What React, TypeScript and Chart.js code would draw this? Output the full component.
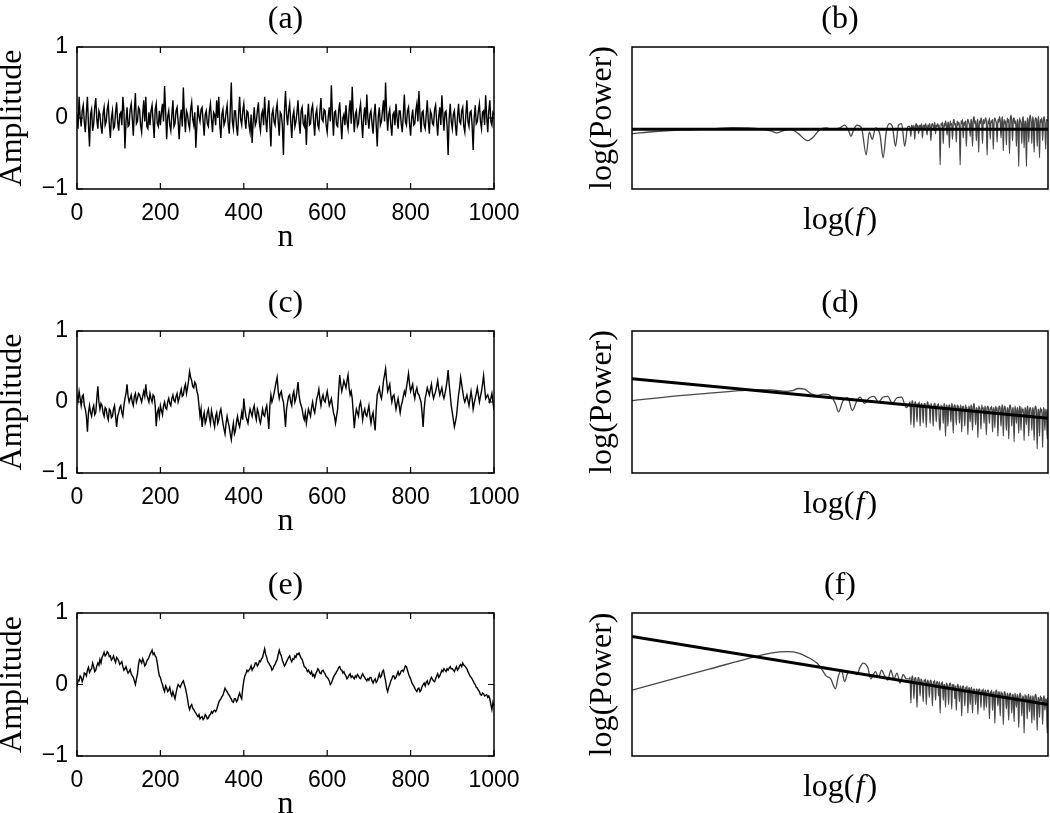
import React, { useEffect, useRef } from 'react';
import { Chart, registerables } from 'chart.js';

Chart.register(...registerables);

const SERIF = '"Liberation Serif", "Times New Roman", serif';
const SANS = '"Liberation Sans", Arial, sans-serif';
const LABEL_SIZE = 32;
const TICK_SIZE = 23;

// ---------- time axis (samples n) ----------
const nAxis = Array.from({ length: 401 }, (_, i) => i * 2.5);
const nTickStep = 200;
const ampTicks = [-1, 0, 1];

// ---------- (a) white noise ----------
const amplitudeA = [
  0.05, -0.15, 0.3, 0.02, -0.12, 0.1, 0.18, -0.05, -0.2, 0.08, 0.3, -0.1, -0.4, 0.05, 0.12, -0.18, -0.08, 0.15, 0.28, -0.02, -0.15, 0.1, 0.05, -0.12, -0.22, 0.06, 0.15, -0.1, -0.05, 0.12, 0.2, -0.08, -0.28, 0.0, 0.1, -0.15, -0.12, 0.08, 0.22, -0.06,
  -0.18, 0.05, 0.08, -0.1, 0.3, 0.1, -0.43, -0.05, 0.15, -0.12, -0.1, 0.12, 0.2, 0.0, -0.25, 0.1, 0.35, -0.08, -0.05, 0.15, 0.12, -0.1, -0.2, 0.05, 0.25, -0.05, 0.3, -0.12, -0.15, 0.08, -0.1, 0.1, 0.18, -0.05, -0.28, 0.12, 0.2, -0.08, -0.12, 0.1,
  -0.1, 0.08, 0.2, -0.05, 0.45, 0.1, -0.3, 0.02, 0.1, -0.1, -0.18, 0.05, 0.25, -0.12, -0.08, 0.1, 0.15, -0.05, -0.3, 0.0, 0.12, -0.12, 0.43, 0.05, -0.2, 0.1, 0.05, -0.08, -0.15, 0.12, 0.22, -0.02, -0.1, 0.08, -0.42, -0.1, 0.18, 0.02, -0.05, 0.12,
  0.15, -0.05, -0.25, 0.05, 0.1, -0.08, -0.12, 0.1, 0.2, -0.02, -0.2, 0.08, 0.05, -0.1, 0.25, 0.0, 0.3, -0.1, -0.28, 0.05, 0.12, -0.1, -0.05, 0.08, 0.18, -0.08, -0.22, 0.1, 0.5, -0.05, -0.15, 0.1, 0.1, -0.12, -0.25, 0.05, 0.3, -0.02, -0.1, 0.1,
  0.2, -0.02, -0.15, 0.1, 0.08, -0.1, -0.2, 0.05, -0.35, -0.05, 0.15, -0.1, -0.05, 0.1, 0.22, -0.08, -0.18, 0.05, 0.1, -0.1, 0.3, 0.0, -0.2, 0.08, 0.25, -0.1, -0.4, 0.05, 0.12, -0.05, -0.1, 0.1, 0.2, -0.05, -0.25, 0.08, 0.05, -0.1, -0.52, 0.1,
  0.38, 0.05, -0.1, 0.1, 0.2, -0.05, -0.28, 0.02, 0.1, -0.12, -0.05, 0.08, 0.25, -0.05, -0.22, 0.1, 0.15, -0.08, -0.12, 0.05, -0.38, 0.0, 0.2, -0.1, -0.08, 0.12, 0.18, -0.05, -0.25, 0.05, 0.12, -0.1, -0.15, 0.1, 0.28, -0.02, -0.05, 0.12, 0.1, -0.1,
  -0.2, 0.02, 0.15, -0.05, 0.46, 0.05, -0.25, 0.08, 0.1, -0.1, -0.12, 0.1, 0.22, -0.05, -0.3, 0.0, 0.05, -0.1, 0.18, -0.05, -0.15, 0.1, 0.25, -0.08, 0.44, 0.05, -0.2, 0.05, 0.1, -0.12, -0.08, 0.1, 0.2, -0.05, -0.28, 0.02, 0.15, -0.1, 0.33, 0.0,
  -0.15, 0.05, 0.1, -0.08, -0.22, 0.05, 0.2, -0.1, -0.4, 0.02, 0.15, -0.1, -0.05, 0.1, 0.25, -0.05, 0.5, 0.08, -0.18, 0.05, 0.12, -0.1, -0.25, 0.05, 0.08, -0.1, 0.2, 0.0, -0.15, 0.1, 0.1, -0.08, -0.2, 0.05, 0.33, -0.05, -0.1, 0.1, 0.15, -0.08,
  -0.25, 0.0, 0.12, -0.1, -0.08, 0.1, 0.2, -0.05, 0.38, 0.05, -0.2, 0.08, 0.1, -0.1, -0.15, 0.05, 0.25, -0.05, -0.22, 0.1, 0.05, -0.08, -0.1, 0.12, 0.18, -0.05, -0.25, 0.02, 0.15, -0.1, 0.32, 0.05, -0.18, 0.08, 0.1, -0.12, -0.52, 0.0, 0.2, -0.05,
  -0.15, 0.05, 0.1, -0.1, -0.25, 0.02, 0.2, -0.05, -0.08, 0.1, 0.15, -0.12, -0.2, 0.05, 0.25, -0.05, -0.12, 0.08, 0.1, -0.1, -0.45, 0.0, 0.18, -0.08, -0.05, 0.1, 0.2, -0.05, -0.15, 0.08, 0.1, -0.1, 0.32, 0.02, -0.2, 0.1, 0.25, -0.05, -0.1, 0.08,
  0.05,
];

// ---------- (c) pink noise ----------
const amplitudeC = [
  0.1, 0.02, 0.15, 0.05, -0.05, 0.08, 0.1, -0.05, -0.1, -0.2, -0.42, -0.15, -0.05, -0.15, -0.2, -0.1, -0.05, -0.18, -0.15, 0.05, 0.22, 0.0, -0.1, -0.02, -0.05, -0.15, -0.2, -0.08, -0.1, -0.2, -0.25, -0.1, -0.12, -0.22, -0.2, -0.1, -0.05, -0.2, -0.35, -0.2,
  -0.15, -0.08, -0.05, -0.15, -0.2, -0.05, 0.05, 0.12, 0.25, 0.08, 0.0, 0.05, 0.1, 0.0, -0.05, 0.08, 0.12, 0.0, 0.05, 0.12, 0.1, 0.05, 0.0, 0.08, 0.15, 0.08, 0.25, 0.1, 0.05, 0.0, 0.12, 0.05, 0.0, 0.1, 0.08, -0.05, -0.34, -0.15, -0.1, -0.2,
  -0.05, -0.12, -0.18, -0.05, 0.0, -0.08, -0.1, 0.0, 0.05, -0.02, -0.05, 0.05, 0.1, 0.02, 0.0, 0.08, 0.12, 0.0, 0.05, 0.12, 0.18, 0.08, 0.1, 0.2, 0.25, 0.12, 0.2, 0.3, 0.43, 0.35, 0.3, 0.22, 0.2, 0.28, 0.25, 0.15, 0.1, -0.05, -0.2, -0.1,
  -0.35, -0.22, -0.15, -0.3, -0.25, -0.15, -0.1, -0.22, -0.3, -0.12, -0.2, -0.28, -0.35, -0.2, -0.15, -0.3, -0.25, -0.15, -0.1, -0.2, -0.3, -0.38, -0.45, -0.3, -0.2, -0.28, -0.35, -0.45, -0.53, -0.4, -0.3, -0.45, -0.4, -0.28, -0.2, -0.3, -0.35, -0.25, -0.15, -0.25,
  0.05, -0.1, -0.2, -0.25, -0.3, -0.18, -0.1, -0.15, -0.2, -0.1, -0.05, -0.18, -0.25, -0.1, -0.15, -0.25, -0.3, -0.2, -0.1, -0.18, -0.2, -0.1, -0.05, -0.2, -0.38, -0.05, 0.1, 0.0, 0.05, 0.12, 0.2, 0.28, 0.35, 0.15, 0.05, 0.12, 0.15, 0.05, 0.0, -0.15,
  -0.35, -0.1, 0.0, 0.08, 0.1, 0.0, -0.05, 0.1, 0.15, 0.0, 0.05, 0.15, 0.28, 0.1, 0.0, -0.05, -0.1, -0.2, -0.25, -0.15, -0.3, -0.2, -0.1, -0.15, -0.2, -0.08, 0.0, -0.1, -0.15, -0.05, 0.05, 0.1, 0.18, 0.05, -0.05, 0.05, 0.1, 0.02, 0.0, 0.08,
  0.15, 0.05, -0.05, 0.0, 0.05, -0.05, -0.15, -0.2, -0.3, -0.2, -0.1, 0.15, 0.38, 0.25, 0.15, 0.22, 0.3, 0.25, 0.2, 0.3, 0.38, 0.2, 0.1, 0.15, 0.05, -0.15, -0.37, -0.2, -0.1, -0.15, -0.2, -0.05, 0.0, -0.1, -0.25, -0.15, -0.1, -0.18, -0.2, -0.12,
  -0.05, -0.2, -0.3, -0.2, -0.15, -0.28, -0.4, -0.1, 0.1, 0.15, 0.2, 0.1, 0.05, 0.15, 0.3, 0.38, 0.47, 0.3, 0.15, 0.2, 0.25, 0.1, 0.0, 0.08, 0.1, 0.0, -0.1, -0.02, 0.05, -0.05, -0.15, -0.05, 0.0, 0.08, 0.15, 0.1, 0.2, 0.3, 0.4, 0.25,
  0.15, 0.2, 0.25, 0.12, 0.05, 0.15, 0.2, 0.12, 0.1, 0.05, 0.0, -0.15, -0.35, -0.1, 0.05, 0.12, 0.2, 0.15, 0.1, 0.18, 0.25, 0.12, 0.05, 0.1, 0.15, 0.22, 0.3, 0.18, 0.1, 0.15, 0.2, 0.1, 0.05, 0.12, 0.2, 0.3, 0.45, 0.25, 0.1, -0.05,
  -0.15, -0.25, -0.35, -0.28, -0.2, -0.05, 0.1, 0.2, 0.35, 0.25, 0.15, 0.05, 0.0, 0.05, 0.1, 0.02, -0.05, 0.05, 0.15, 0.05, -0.1, -0.02, 0.05, 0.12, 0.2, 0.1, 0.0, 0.08, 0.15, 0.25, 0.37, 0.2, 0.05, 0.08, 0.1, 0.05, 0.0, 0.05, 0.12, 0.0,
  -0.12,
];

// ---------- (e) brown noise ----------
const amplitudeE = [
  -0.03, 0.06, 0.05, 0.12, 0.1, 0.04, 0.08, 0.16, 0.15, 0.12, 0.2, 0.24, 0.17, 0.2, 0.22, 0.3, 0.25, 0.18, 0.2, 0.26, 0.3, 0.27, 0.35, 0.3, 0.38, 0.41, 0.45, 0.4, 0.42, 0.46, 0.44, 0.39, 0.4, 0.34, 0.36, 0.4, 0.35, 0.31, 0.38, 0.36,
  0.33, 0.28, 0.3, 0.32, 0.25, 0.2, 0.22, 0.25, 0.2, 0.16, 0.18, 0.21, 0.15, 0.12, 0.1, 0.05, 0.0, 0.08, 0.15, 0.28, 0.35, 0.33, 0.3, 0.36, 0.32, 0.26, 0.28, 0.33, 0.35, 0.38, 0.42, 0.45, 0.48, 0.42, 0.44, 0.4, 0.38, 0.3, 0.2, 0.12,
  0.1, 0.04, 0.0, -0.06, -0.1, -0.02, -0.05, -0.1, -0.08, -0.04, -0.12, -0.16, -0.1, -0.15, -0.2, -0.12, -0.05, 0.0, -0.02, -0.04, 0.0, 0.03, 0.05, 0.0, -0.05, -0.12, -0.2, -0.3, -0.35, -0.3, -0.28, -0.33, -0.35, -0.38, -0.4, -0.43, -0.45, -0.42, -0.48, -0.46,
  -0.45, -0.49, -0.47, -0.42, -0.44, -0.48, -0.47, -0.43, -0.42, -0.38, -0.4, -0.37, -0.36, -0.38, -0.35, -0.3, -0.25, -0.22, -0.2, -0.17, -0.15, -0.1, -0.05, -0.08, -0.1, -0.13, -0.15, -0.18, -0.2, -0.24, -0.25, -0.2, -0.2, -0.24, -0.22, -0.16, -0.12, -0.17, -0.2, -0.05,
  0.05, 0.12, 0.15, 0.2, 0.18, 0.2, 0.22, 0.26, 0.2, 0.23, 0.25, 0.3, 0.3, 0.26, 0.28, 0.33, 0.32, 0.36, 0.38, 0.44, 0.5, 0.42, 0.38, 0.32, 0.3, 0.27, 0.25, 0.2, 0.22, 0.26, 0.28, 0.32, 0.35, 0.42, 0.48, 0.43, 0.4, 0.34, 0.3, 0.26,
  0.28, 0.32, 0.35, 0.38, 0.4, 0.35, 0.32, 0.36, 0.35, 0.4, 0.38, 0.43, 0.42, 0.44, 0.4, 0.37, 0.35, 0.3, 0.25, 0.24, 0.22, 0.18, 0.2, 0.17, 0.15, 0.18, 0.12, 0.14, 0.1, 0.15, 0.18, 0.22, 0.2, 0.16, 0.15, 0.19, 0.2, 0.17, 0.15, 0.11,
  0.1, 0.08, 0.05, 0.0, 0.02, 0.06, 0.1, 0.13, 0.15, 0.18, 0.2, 0.24, 0.25, 0.21, 0.2, 0.16, 0.18, 0.14, 0.12, 0.08, 0.1, 0.13, 0.15, 0.1, 0.12, 0.1, 0.08, 0.12, 0.1, 0.14, 0.12, 0.09, 0.08, 0.12, 0.15, 0.12, 0.1, 0.07, 0.05, 0.08,
  0.06, 0.1, 0.1, 0.05, 0.02, 0.06, 0.08, 0.03, 0.05, 0.1, 0.15, 0.1, 0.12, 0.18, 0.2, 0.12, 0.05, -0.05, -0.1, -0.04, 0.0, 0.05, 0.08, 0.12, 0.12, 0.08, 0.1, 0.14, 0.18, 0.13, 0.15, 0.19, 0.2, 0.18, 0.22, 0.26, 0.25, 0.2, 0.15, 0.11,
  0.08, 0.03, 0.0, -0.02, -0.05, -0.08, -0.1, -0.06, -0.05, -0.1, -0.08, -0.03, 0.0, 0.02, -0.02, 0.03, 0.05, 0.0, 0.02, 0.07, 0.1, 0.07, 0.05, 0.04, 0.08, 0.12, 0.15, 0.1, 0.12, 0.16, 0.2, 0.18, 0.22, 0.2, 0.18, 0.22, 0.2, 0.23, 0.25, 0.22,
  0.22, 0.2, 0.18, 0.22, 0.25, 0.2, 0.22, 0.26, 0.28, 0.25, 0.3, 0.27, 0.26, 0.24, 0.22, 0.18, 0.15, 0.12, 0.1, 0.08, 0.05, 0.02, 0.0, -0.04, -0.05, -0.08, -0.1, -0.14, -0.15, -0.12, -0.13, -0.16, -0.15, -0.14, -0.18, -0.16, -0.2, -0.28, -0.35, -0.25,
  -0.3,
];

// ---------- spectra: log(f) axis ----------
const logFRange = [-3, -0.3];
const hiLogF = Array.from({ length: 181 }, (_, i) => -1.2 + i * 0.005);
const fitLogF = [-3, -0.3];

// (b)
const lowLogF_B = [-3.0, -2.85, -2.7, -2.5, -2.35, -2.25, -2.15, -2.1, -2.06, -2.02, -1.97, -1.92, -1.88, -1.86, -1.82, -1.78, -1.74, -1.7, -1.65, -1.62, -1.59, -1.58, -1.56, -1.54, -1.51, -1.48, -1.46, -1.44, -1.42, -1.39, -1.37, -1.35, -1.33, -1.31, -1.29, -1.27, -1.25, -1.23, -1.21];
const lowPow_B = [3.9, 4.05, 4.15, 4.22, 4.32, 4.3, 4.2, 4.1, 3.95, 4.1, 4.2, 3.9, 3.5, 3.4, 3.7, 4.2, 4.3, 4.2, 4.3, 4.5, 4.0, 3.7, 4.2, 4.5, 4.3, 2.4, 4.0, 3.5, 4.3, 3.8, 2.2, 4.0, 4.6, 4.4, 3.0, 4.5, 4.6, 3.0, 4.4];
const hiPow_B = [
  4.4, 4.3, 3.7, 4.5, 4.4, 4.2, 4.5, 3.5, 4.4, 4.6, 4.3, 4.5, 3.9, 4.4, 4.5, 4.3, 4.6, 3.6, 4.4, 4.5,
  4.3, 4.6, 4.4, 3.8, 4.5, 4.3, 4.6, 4.4, 3.4, 4.5, 4.6, 4.4, 4.3, 4.7, 3.9, 4.5, 4.4, 4.6, 4.3, 4.5,
  1.7, 4.6, 4.5, 4.7, 3.2, 4.6, 4.4, 4.8, 4.5, 3.8, 4.7, 4.6, 2.9, 4.8, 4.5, 4.6, 3.5, 4.7, 4.9, 4.5,
  4.6, 3.3, 4.8, 4.5, 4.7, 4.4, 1.7, 4.8, 4.6, 4.9, 3.6, 4.7, 4.5, 4.8, 3.0, 4.6, 4.9, 4.7, 4.5, 3.7,
  4.9, 4.7, 3.0, 4.8, 5.1, 4.6, 4.8, 3.4, 4.7, 4.9, 2.6, 4.8, 4.6, 5.0, 4.7, 3.2, 4.9, 4.6, 4.8, 5.0,
  4.7, 2.4, 4.8, 4.6, 5.0, 3.5, 4.8, 4.7, 4.9, 2.8, 4.7, 5.0, 4.8, 4.6, 3.3, 4.9, 4.7, 5.1, 4.8, 3.6,
  4.8, 5.1, 2.7, 4.9, 4.6, 4.8, 3.1, 5.0, 4.7, 4.9, 2.5, 4.8, 5.2, 4.7, 3.4, 4.9, 5.0, 4.6, 4.8, 3.0,
  4.9, 4.7, 1.6, 5.0, 4.8, 4.6, 3.2, 4.9, 5.1, 2.9, 4.8, 4.7, 1.6, 5.0, 4.8, 3.3, 4.9, 5.2, 4.7, 3.2,
  5.1, 4.8, 2.6, 4.7, 5.0, 4.9, 3.0, 4.8, 5.1, 2.2, 4.9, 4.7, 5.0, 3.4, 4.8, 5.1, 4.6, 2.8, 4.9, 4.8,
  4.9,
];
const fitPow_B = [4.2, 4.2];

// (d)
const lowLogF_D = [-3.0, -2.74, -2.5, -2.3, -2.2, -2.1, -2.0, -1.96, -1.92, -1.88, -1.84, -1.8, -1.76, -1.72, -1.68, -1.66, -1.63, -1.6, -1.57, -1.54, -1.52, -1.49, -1.46, -1.43, -1.4, -1.37, -1.34, -1.31, -1.28, -1.25, -1.22];
const lowPow_D = [5.1, 5.4, 5.62, 5.8, 5.85, 5.85, 5.75, 5.8, 5.95, 5.9, 5.6, 5.45, 5.55, 5.5, 4.9, 4.3, 5.1, 5.3, 4.4, 5.1, 5.35, 4.9, 5.3, 5.4, 5.0, 5.35, 5.4, 4.9, 5.3, 5.35, 4.6];
const hiPow_D = [
  4.9, 5.0, 3.4, 4.8, 5.1, 4.7, 3.2, 4.9, 5.0, 4.6, 3.6, 4.9, 4.8, 5.0, 3.3, 4.7, 4.9, 4.6, 3.5, 4.8,
  4.9, 4.7, 3.2, 4.8, 5.0, 4.6, 4.8, 3.5, 4.9, 4.7, 4.5, 3.3, 4.8, 4.9, 4.6, 3.6, 4.8, 4.7, 4.9, 3.4,
  3.0, 4.8, 4.6, 4.7, 3.5, 4.9, 4.6, 2.6, 4.8, 4.7, 3.3, 4.6, 4.8, 4.5, 3.6, 4.9, 4.6, 2.8, 4.7, 4.8,
  4.5, 3.4, 4.8, 4.6, 4.7, 3.5, 4.5, 4.8, 2.9, 4.6, 4.7, 4.4, 3.3, 4.8, 4.5, 4.6, 2.7, 4.7, 4.5, 3.6,
  4.8, 4.5, 3.0, 4.6, 4.9, 4.4, 3.4, 4.6, 4.5, 2.5, 4.7, 4.6, 4.4, 3.1, 4.8, 4.5, 4.6, 3.5, 4.7, 4.4,
  2.7, 4.6, 4.7, 4.4, 3.5, 4.6, 4.5, 4.7, 2.9, 4.5, 4.6, 3.2, 4.7, 4.4, 4.6, 2.6, 4.5, 4.7, 4.4, 3.3,
  4.6, 4.8, 2.6, 4.5, 4.7, 4.3, 3.0, 4.6, 4.5, 2.4, 4.6, 4.8, 4.4, 3.3, 4.5, 4.6, 2.2, 4.7, 4.4, 3.5,
  4.6, 4.4, 2.8, 4.7, 4.5, 3.0, 4.6, 4.3, 4.5, 2.3, 4.6, 4.4, 3.4, 4.7, 4.5, 2.6, 4.4, 4.6, 4.3, 3.0,
  4.6, 4.4, 2.3, 4.5, 4.7, 4.3, 1.7, 4.5, 4.4, 2.6, 4.6, 4.3, 4.5, 1.8, 4.6, 4.4, 3.0, 4.5, 4.2, 2.4,
  4.5,
];
const fitPow_D = [6.64, 3.85];

// (f)
const lowLogF_F = [-3.0, -2.5, -2.2, -2.1, -1.99, -1.92, -1.85, -1.8, -1.77, -1.74, -1.71, -1.68, -1.66, -1.64, -1.62, -1.6, -1.57, -1.54, -1.52, -1.5, -1.47, -1.45, -1.42, -1.4, -1.38, -1.36, -1.34, -1.32, -1.3, -1.28, -1.26, -1.24, -1.22];
const lowPow_F = [4.6, 6.07, 6.95, 7.2, 7.3, 7.2, 6.85, 6.5, 6.1, 5.6, 5.4, 4.7, 5.6, 6.0, 5.2, 5.8, 5.9, 5.7, 6.2, 6.5, 6.2, 5.4, 5.9, 5.5, 6.0, 5.6, 5.3, 6.0, 5.4, 5.8, 5.1, 5.7, 5.4];
const hiPow_F = [
  5.4, 5.5, 3.7, 5.3, 5.6, 5.2, 4.0, 5.4, 5.5, 5.1, 3.4, 5.3, 5.5, 5.2, 4.2, 5.4, 5.3, 5.0, 3.8, 5.3,
  5.2, 5.4, 3.6, 5.1, 5.3, 5.0, 4.1, 5.2, 5.3, 4.9, 3.5, 5.2, 5.1, 5.3, 3.9, 5.0, 5.2, 5.1, 4.2, 5.2,
  3.0, 5.1, 5.0, 5.2, 3.9, 5.0, 4.9, 3.4, 5.1, 5.0, 4.8, 3.6, 5.0, 5.1, 4.9, 3.3, 5.0, 4.8, 5.0, 4.0,
  4.9, 3.2, 4.8, 5.0, 4.7, 3.8, 4.9, 4.7, 2.8, 4.8, 4.9, 4.6, 3.5, 4.8, 4.7, 4.9, 3.0, 4.7, 4.8, 3.6,
  4.7, 4.8, 3.0, 4.6, 4.7, 4.5, 3.6, 4.7, 4.6, 2.9, 4.6, 4.7, 4.4, 3.4, 4.6, 4.5, 4.7, 3.2, 4.5, 4.6,
  3.4, 4.5, 4.6, 4.4, 2.6, 4.5, 4.3, 4.6, 3.2, 4.4, 4.5, 2.3, 4.4, 4.6, 4.3, 3.5, 4.5, 4.4, 2.8, 4.5,
  4.3, 4.4, 2.2, 4.3, 4.5, 4.1, 3.3, 4.4, 4.2, 2.5, 4.3, 4.4, 4.1, 3.0, 4.3, 4.2, 2.4, 4.4, 4.1, 3.4,
  4.3, 4.1, 2.0, 4.2, 4.4, 4.0, 2.8, 4.2, 4.1, 1.6, 4.3, 4.0, 4.2, 2.6, 4.1, 4.3, 3.1, 4.0, 4.2, 2.3,
  4.2, 4.0, 2.5, 4.1, 4.3, 3.9, 1.8, 4.1, 4.0, 2.7, 4.2, 3.9, 4.1, 2.2, 4.0, 4.2, 3.2, 4.0, 3.9, 1.6,
  4.1,
];
const fitPow_F = [8.35, 3.6];

// ---------- layout ----------
const ROWS = [
  { top: 47, bottom: 189 },
  { top: 331, bottom: 473 },
  { top: 613, bottom: 756 },
];
const TITLE_H = 47;
const XAXIS_H = 68;
const LEFT_CANVAS = { left: 0, width: 530, areaLeft: 77, padRight: 36 };
const RIGHT_CANVAS = { left: 540, width: 510, areaLeft: 92, padRight: 2 };

const framePlugin = (inwardTicks: boolean) => ({
  id: 'frame',
  afterDatasetsDraw(chart: any) {
    const { ctx, chartArea: a, scales } = chart;
    ctx.save();
    ctx.strokeStyle = '#000';
    ctx.lineWidth = 1.5;
    ctx.strokeRect(a.left, a.top, a.right - a.left, a.bottom - a.top);
    if (inwardTicks) {
      const L = 6;
      ctx.lineWidth = 1.2;
      ctx.beginPath();
      scales.x.ticks.forEach((t: any) => {
        const px = scales.x.getPixelForValue(t.value);
        ctx.moveTo(px, a.bottom);
        ctx.lineTo(px, a.bottom - L);
        ctx.moveTo(px, a.top);
        ctx.lineTo(px, a.top + L);
      });
      scales.y.ticks.forEach((t: any) => {
        const py = scales.y.getPixelForValue(t.value);
        ctx.moveTo(a.left, py);
        ctx.lineTo(a.left + L, py);
        ctx.moveTo(a.right, py);
        ctx.lineTo(a.right - L, py);
      });
      ctx.stroke();
    }
    ctx.restore();
  },
});

const logFLabelPlugin = {
  id: 'logFLabel',
  afterDraw(chart: any) {
    const { ctx, chartArea: a } = chart;
    const parts = [
      { t: 'log(', f: `${LABEL_SIZE}px ${SERIF}` },
      { t: 'f', f: `italic ${LABEL_SIZE}px ${SERIF}` },
      { t: ')', f: `${LABEL_SIZE}px ${SERIF}` },
    ];
    ctx.save();
    let total = 0;
    const widths = parts.map((p) => {
      ctx.font = p.f;
      const w = ctx.measureText(p.t).width + (p.t === 'f' ? 3 : 0);
      total += w;
      return w;
    });
    let x = (a.left + a.right) / 2 - total / 2;
    const y = a.bottom + 32;
    ctx.fillStyle = '#000';
    ctx.textBaseline = 'middle';
    ctx.textAlign = 'left';
    parts.forEach((p, i) => {
      ctx.font = p.f;
      ctx.fillText(p.t, x + (p.t === 'f' ? 1 : 0), y);
      x += widths[i];
    });
    ctx.restore();
  },
};

function titleOpts(text: string) {
  return {
    display: true,
    text,
    fullSize: false,
    color: '#000',
    font: { family: SERIF, size: LABEL_SIZE, weight: 'normal' as const, lineHeight: 1.2 },
    padding: { top: 0, bottom: TITLE_H - LABEL_SIZE * 1.2 },
  };
}

const fitX = (s: any) => {
  s.height = XAXIS_H;
  s.paddingLeft = 0;
  s.paddingRight = 0;
};
const fitY = (w: number) => (s: any) => {
  s.width = w;
  s.paddingTop = 0;
  s.paddingBottom = 0;
};

function leftConfig(title: string, values: number[]): any {
  return {
    type: 'line',
    data: {
      datasets: [
        {
          data: nAxis.map((n, i) => ({ x: n, y: values[i] })),
          borderColor: '#000',
          borderWidth: 1.4,
          pointRadius: 0,
          tension: 0,
          fill: false,
        },
      ],
    },
    options: {
      responsive: false,
      animation: false,
      devicePixelRatio: 1,
      layout: { padding: { left: 0, right: LEFT_CANVAS.padRight, top: 0, bottom: 0 } },
      plugins: { legend: { display: false }, tooltip: { enabled: false }, title: titleOpts(title) },
      scales: {
        x: {
          type: 'linear',
          min: 0,
          max: 1000,
          afterFit: fitX,
          grid: { display: false, drawTicks: false },
          border: { display: false },
          ticks: {
            stepSize: nTickStep,
            color: '#000',
            font: { family: SANS, size: TICK_SIZE },
            padding: 11,
            maxRotation: 0,
            autoSkip: false,
            callback: (v: number) => String(v),
          },
          title: {
            display: true,
            text: 'n',
            color: '#000',
            font: { family: SERIF, size: LABEL_SIZE, lineHeight: 1.2 },
            padding: 0,
          },
        },
        y: {
          type: 'linear',
          min: ampTicks[0],
          max: ampTicks[ampTicks.length - 1],
          afterFit: fitY(LEFT_CANVAS.areaLeft),
          grid: { display: false, drawTicks: false },
          border: { display: false },
          ticks: {
            stepSize: 1,
            color: '#000',
            font: { family: SANS, size: TICK_SIZE },
            padding: 9,
            callback: (v: number) => (v < 0 ? '\u2212' + Math.abs(v) : String(v)),
          },
          title: {
            display: true,
            text: 'Amplitude',
            color: '#000',
            font: { family: SERIF, size: LABEL_SIZE, lineHeight: 0.8 },
            padding: 0,
          },
        },
      },
    },
    plugins: [framePlugin(true)],
  };
}

function rightConfig(title: string, lowF: number[], lowP: number[], hiP: number[], fitP: number[]): any {
  const spectrum = [
    ...lowF.map((f, i) => ({ x: f, y: lowP[i] })),
    ...hiLogF.map((f, i) => ({ x: f, y: hiP[i] })),
  ];
  return {
    type: 'line',
    data: {
      datasets: [
        {
          data: fitLogF.map((f, i) => ({ x: f, y: fitP[i] })),
          borderColor: '#000',
          borderWidth: 3,
          pointRadius: 0,
          tension: 0,
        },
        {
          data: spectrum,
          borderColor: '#474747',
          borderWidth: 1.3,
          pointRadius: 0,
          cubicInterpolationMode: 'monotone',
        },
      ],
    },
    options: {
      responsive: false,
      animation: false,
      devicePixelRatio: 1,
      layout: { padding: { left: 0, right: RIGHT_CANVAS.padRight, top: 0, bottom: 0 } },
      plugins: { legend: { display: false }, tooltip: { enabled: false }, title: titleOpts(title) },
      scales: {
        x: {
          type: 'linear',
          min: logFRange[0],
          max: logFRange[1],
          afterFit: fitX,
          grid: { display: false, drawTicks: false },
          border: { display: false },
          ticks: { display: false },
        },
        y: {
          type: 'linear',
          min: 0,
          max: 10,
          afterFit: fitY(RIGHT_CANVAS.areaLeft),
          grid: { display: false, drawTicks: false },
          border: { display: false },
          ticks: { display: false },
          title: {
            display: true,
            text: 'log(Power)',
            color: '#000',
            font: { family: SERIF, size: LABEL_SIZE, lineHeight: 0.8 },
            padding: { top: 50, bottom: 0 },
          },
        },
      },
    },
    plugins: [framePlugin(false), logFLabelPlugin],
  };
}

function Panel({ left, top, width, height, make }: { left: number; top: number; width: number; height: number; make: () => any }) {
  const ref = useRef<HTMLCanvasElement | null>(null);
  useEffect(() => {
    if (!ref.current) return;
    const chart = new Chart(ref.current, make());
    return () => chart.destroy();
  }, []);
  return (
    <canvas
      ref={ref}
      width={width}
      height={height}
      style={{ position: 'absolute', left, top, width, height }}
    />
  );
}

export default function App() {
  const leftSeries = [
    { title: '(a)', values: amplitudeA },
    { title: '(c)', values: amplitudeC },
    { title: '(e)', values: amplitudeE },
  ];
  const rightSeries = [
    { title: '(b)', lowF: lowLogF_B, lowP: lowPow_B, hiP: hiPow_B, fit: fitPow_B },
    { title: '(d)', lowF: lowLogF_D, lowP: lowPow_D, hiP: hiPow_D, fit: fitPow_D },
    { title: '(f)', lowF: lowLogF_F, lowP: lowPow_F, hiP: hiPow_F, fit: fitPow_F },
  ];
  return (
    <div style={{ position: 'absolute', left: 0, top: 0, width: 1050, height: 813, background: '#fff', overflow: 'hidden' }}>
      {ROWS.map((r, i) => {
        const top = r.top - TITLE_H;
        const height = r.bottom - r.top + TITLE_H + XAXIS_H;
        const L = leftSeries[i];
        const R = rightSeries[i];
        return (
          <React.Fragment key={i}>
            <Panel
              left={LEFT_CANVAS.left}
              top={top}
              width={LEFT_CANVAS.width}
              height={height}
              make={() => leftConfig(L.title, L.values)}
            />
            <Panel
              left={RIGHT_CANVAS.left}
              top={top}
              width={RIGHT_CANVAS.width}
              height={height}
              make={() => rightConfig(R.title, R.lowF, R.lowP, R.hiP, R.fit)}
            />
          </React.Fragment>
        );
      })}
    </div>
  );
}
